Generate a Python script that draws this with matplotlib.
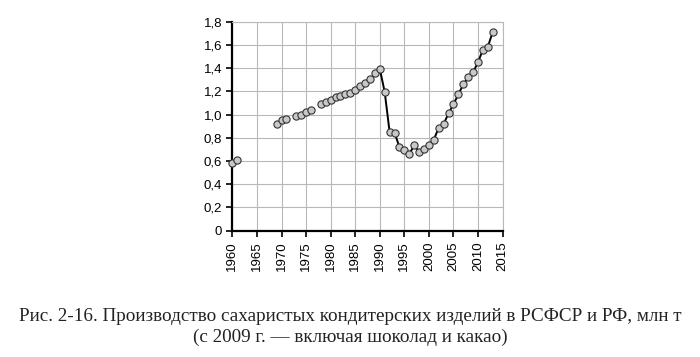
import numpy as np
import matplotlib.pyplot as plt

# годы и производство, млн т
years_early = [1960, 1961, 1969, 1970, 1971, 1973, 1974, 1975, 1976,
               1978, 1979, 1980, 1981, 1982, 1983, 1984, 1985, 1986,
               1987, 1988, 1989]
vals_early = [0.58, 0.61, 0.92, 0.95, 0.96, 0.99, 1.00, 1.02, 1.04,
              1.09, 1.11, 1.13, 1.155, 1.16, 1.18, 1.19, 1.21, 1.245,
              1.275, 1.31, 1.36]

years_late = [1990, 1991, 1992, 1993, 1994, 1995, 1996, 1997, 1998, 1999,
              2000, 2001, 2002, 2003, 2004, 2005, 2006, 2007, 2008, 2009,
              2010, 2011, 2012, 2013]
vals_late = [1.395, 1.195, 0.85, 0.845, 0.72, 0.695, 0.66, 0.735, 0.68, 0.70,
             0.735, 0.785, 0.886, 0.92, 1.01, 1.09, 1.175, 1.26, 1.32, 1.366,
             1.452, 1.56, 1.585, 1.714]

xticks = list(range(1960, 2016, 5))
yticks = [0, 0.2, 0.4, 0.6, 0.8, 1.0, 1.2, 1.4, 1.6, 1.8]
ytick_labels = [f"{v:.1f}".replace(".", ",") if v else "0" for v in yticks]

caption = ("Рис. 2-16. Производство сахаристых кондитерских изделий в РСФСР и РФ, млн т\n"
           "(с 2009 г. — включая шоколад и какао)")

fig = plt.figure(figsize=(7, 3.57), dpi=100)
ax = fig.add_axes([0.332, 0.354, 0.386, 0.585])

mk = dict(marker='o', markersize=5.2, markerfacecolor='#c8c8c8',
          markeredgecolor='#333333', markeredgewidth=0.8)
ax.plot(years_early, vals_early, linestyle='none', zorder=3, clip_on=False, **mk)
ax.plot(years_late, vals_late, color='black', linewidth=1.4, zorder=3, clip_on=False, **mk)

ax.set_xlim(1960, 2015)
ax.set_ylim(0, 1.8)
ax.set_xticks(xticks)
ax.set_xticklabels([str(x) for x in xticks], rotation=90)
ax.set_yticks(yticks)
ax.set_yticklabels(ytick_labels)
ax.grid(True, color='#b8b8b8', linewidth=0.8)
ax.set_axisbelow(True)

for s in ['top', 'right']:
    ax.spines[s].set_color('#b8b8b8')
    ax.spines[s].set_linewidth(0.8)
ax.spines['left'].set_linewidth(1.6)
ax.spines['bottom'].set_linewidth(1.6)
ax.tick_params(axis='both', direction='out', length=4, width=1.2,
               labelsize=9.5, colors='black')
for lab in ax.get_xticklabels() + ax.get_yticklabels():
    lab.set_family('Liberation Sans')

fig.text(0.5, 0.085, caption, ha='center', va='center', fontsize=13.8,
         family='Liberation Serif', color='#222222', linespacing=1.3)

fig.savefig('out.png', dpi=100)
